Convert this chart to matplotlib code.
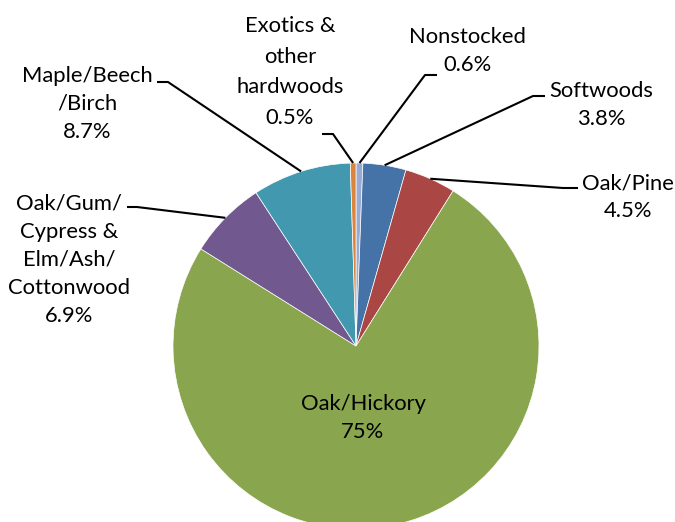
import matplotlib
matplotlib.use("Agg")
import matplotlib.pyplot as plt
import numpy as np

# ---- data ----
categories = ["Nonstocked", "Softwoods", "Oak/Pine", "Oak/Hickory",
              "Oak/Gum/\nCypress &\nElm/Ash/\nCottonwood", "Maple/Beech\n/Birch",
              "Exotics &\nother\nhardwoods"]
values = [0.6, 3.8, 4.5, 75.0, 6.9, 8.7, 0.5]
value_labels = ["0.6%", "3.8%", "4.5%", "75%", "6.9%", "8.7%", "0.5%"]
colors = ["#97ABD3", "#4572A7", "#AA4643", "#89A54E", "#71588F", "#4198AF", "#DB843D"]

plt.rcParams['font.family'] = ['Lato', 'DejaVu Sans']

W, H = 675, 522
fig = plt.figure(figsize=(W / 100, H / 100), dpi=100)
ax = fig.add_axes([0, 0, 1, 1])

cx, cy, R = 356, H - 346, 183
wedges, _ = ax.pie(values, colors=colors, startangle=90, counterclock=False,
                   center=(cx, cy), radius=R,
                   wedgeprops=dict(edgecolor="white", linewidth=0.5))
ax.set_xlim(0, W)
ax.set_ylim(0, H)
ax.set_aspect("equal")
ax.axis("off")

def py(y):
    return H - y

# label layout: (x center, y center in pixels, linespacing, leader stub start, stub end) ; None = inside
layout = [
    (467, 51, 1.5, (437, 75), (425, 75)),
    (601, 105, 1.5, (545, 96), (533, 96)),
    (628, 197, 1.5, (578, 188), (563, 188)),
    (363, 418, 1.5, None, None),
    (69, 259.5, 1.5, (127, 207), (137, 207)),
    (87, 104, 1.5, (157, 82), (168, 82)),
    (290, 72, 1.68, (322, 134), (333, 134)),
]

fs = 15.8
for w, cat, vl, lay in zip(wedges, categories, value_labels, layout):
    x, y, ls, s0, s1 = lay
    ax.text(x, py(y), cat + "\n" + vl, ha="center", va="center",
            multialignment="center", fontsize=fs, linespacing=ls, color="black")
    if s0 is not None:
        mid = np.deg2rad((w.theta1 + w.theta2) / 2)
        ex, ey = cx + R * np.cos(mid), cy + R * np.sin(mid)
        ax.plot([s0[0], s1[0], ex], [py(s0[1]), py(s1[1]), ey],
                color="black", lw=1.5, solid_capstyle="butt", zorder=5)

fig.savefig("out.png", dpi=100)
